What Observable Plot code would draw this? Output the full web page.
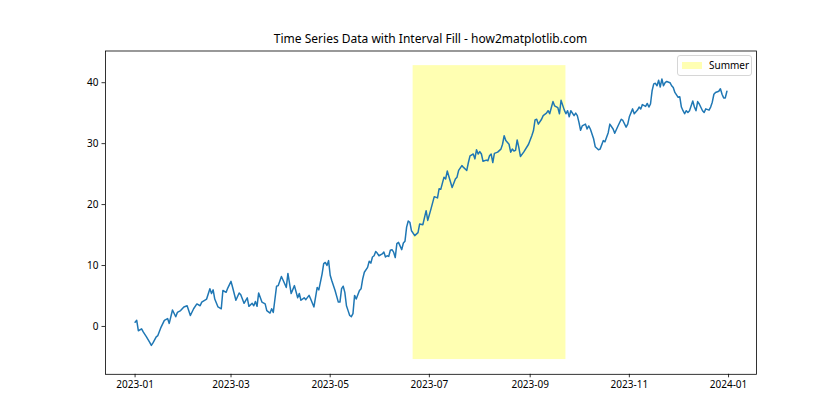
<!DOCTYPE html>
<html>
<head>
<meta charset="utf-8">
<script src="https://cdn.jsdelivr.net/npm/d3@7"></script>
<script src="https://cdn.jsdelivr.net/npm/@observablehq/plot@0.6"></script>
<style>
  html, body { margin: 0; padding: 0; background: #fff; overflow: hidden; }
  #wrap { position: relative; width: 840px; height: 420px; font-family: "Noto Sans", "Open Sans", sans-serif; }
  #title { position: absolute; left: 105px; width: 651px; top: 31px; text-align: center; font-size: 12px; line-height: 16px; color: #000; }
  #legend { position: absolute; left: 677px; top: 55px; width: 73px; height: 19px; border: 1px solid #d6d6d6; border-radius: 3px; background: rgba(255,255,255,0.8); font-size: 10px; }
  #legend .sw { position: absolute; left: 4px; top: 6px; width: 20px; height: 7px; background: #ffffb3; }
  #legend .lb { position: absolute; left: 31px; top: 2px; line-height: 14px; }
</style>
</head>
<body>
<div id="wrap">
  <div id="chart"></div>
  <div id="title">Time Series Data with Interval Fill - how2matplotlib.com</div>
  <div id="legend"><div class="sw"></div><div class="lb">Summer</div></div>
</div>
<script>
// Day offsets from 2023-01-01 and the values
const dayOffsets = [0,1,2,4,5,7,9,10,11,13,14,16,18,20,21,23,25,26,28,30,32,34,36,38,40,41,44,46,47,48,49,51,53,54,56,57,59,60,62,64,65,67,69,70,72,73,74,75,76,78,80,81,83,84,85,87,88,90,92,93,94,96,98,100,101,102,104,105,107,108,110,112,113,115,116,117,118,119,120,121,123,125,126,127,128,129,130,131,132,133,134,135,136,138,139,140,141,143,144,145,146,147,148,149,150,152,153,154,155,156,157,158,159,160,161,162,164,165,166,167,168,169,170,172,174,175,177,179,180,182,184,186,187,188,190,191,192,194,195,197,198,199,201,202,204,205,206,208,209,210,211,212,213,214,216,217,218,219,220,221,223,225,226,227,228,230,231,232,233,234,235,236,237,239,242,244,245,246,247,248,250,251,253,254,255,257,258,260,261,262,264,265,266,267,268,270,271,272,273,274,275,277,278,279,280,282,283,285,286,288,289,291,292,294,295,297,299,300,302,303,304,306,307,309,310,311,312,314,315,316,317,318,319,320,321,322,323,324,325,326,327,329,330,331,332,334,335,336,337,338,339,340,341,343,344,345,346,347,349,350,351,353,354,355,356,357,359,360,361,362,363,364];
const values = [0.7,1.0,-0.7,-0.4,-0.9,-1.7,-2.6,-3.1,-2.7,-1.7,-1.5,-0.1,1.0,1.3,0.5,2.7,1.6,2.3,2.6,3.2,3.4,1.8,2.9,3.7,3.4,4.0,4.5,6.2,5.4,6.0,4.5,3.2,2.9,5.9,5.6,6.3,7.4,6.4,4.3,5.5,5.2,3.8,4.7,3.3,3.8,3.4,4.1,3.3,5.5,4.0,3.7,2.6,2.2,2.9,2.3,6.6,6.7,8.2,7.0,6.4,8.7,5.4,6.7,4.7,5.4,4.3,4.7,4.4,5.1,4.5,3.2,6.4,6.0,8.6,10.3,10.5,10.0,10.8,8.4,7.5,5.9,4.0,4.0,6.2,6.6,5.6,3.4,2.6,1.8,1.6,2.1,5.1,4.5,5.9,6.2,7.8,8.9,9.7,10.7,10.4,11.4,11.6,12.3,12.0,11.6,11.9,12.2,11.4,11.6,11.5,12.5,12.6,12.2,11.3,13.6,13.8,12.6,13.7,14.0,16.3,17.3,17.1,15.7,14.9,15.4,16.8,16.7,19.0,17.4,19.3,21.3,21.1,22.6,22.5,24.5,24.2,25.5,23.7,22.8,24.2,24.5,25.6,26.4,26.1,25.6,26.9,28.0,28.3,27.5,29.0,28.3,28.7,28.3,27.1,27.3,27.2,28.0,28.3,26.9,28.4,28.6,29.1,29.9,31.3,30.5,29.9,28.6,29.1,28.8,28.9,30.6,29.4,27.9,28.6,29.9,31.3,32.1,33.9,34.0,33.2,34.0,34.6,35.0,35.4,34.9,36.9,36.2,35.9,34.9,37.1,35.5,34.9,35.4,34.4,35.4,34.6,35.0,34.6,33.5,32.2,32.9,33.2,32.4,32.9,32.4,30.8,29.5,29.0,29.1,30.5,30.3,31.8,33.2,32.4,31.7,32.9,34.0,33.8,32.7,33.2,34.4,35.7,34.9,35.5,36.0,35.7,36.4,36.1,36.6,36.0,36.5,38.7,39.8,39.9,39.5,40.4,39.3,40.6,39.5,40.0,40.2,40.0,39.5,39.2,38.4,37.6,37.7,36.0,35.4,34.9,35.4,35.1,35.4,37.0,36.0,35.4,36.9,36.5,35.4,35.1,35.7,35.5,36.0,36.8,38.1,38.4,38.6,39.0,38.1,37.5,37.5,38.6];

// Summer interval and its vertical extent
const summerStart = "2023-06-21";
const summerEnd = "2023-09-23";
const fillLow = -5.43;
const fillHigh = 42.8;
const legendLabel = "Summer";

// Tick labels
const xTicks = ["2023-01-01","2023-03-01","2023-05-01","2023-07-01","2023-09-01","2023-11-01","2024-01-01"];
const yTicks = [0, 10, 20, 30, 40];

const series = dayOffsets.map((d, i) => ({date: new Date(Date.UTC(2023, 0, 1 + d)), value: values[i]}));
const interval = [{x1: new Date(summerStart), x2: new Date(summerEnd), y1: fillLow, y2: fillHigh}];

const t0 = Date.UTC(2023, 0, 1), day = 864e5;
const xDomain = [new Date(t0 - 18.2 * day), new Date(t0 + 382.2 * day)];

const chart = Plot.plot({
  width: 840,
  height: 420,
  marginTop: 50.5,
  marginBottom: 46.2,
  marginLeft: 105,
  marginRight: 84,
  style: {fontFamily: "'Noto Sans', 'Open Sans', sans-serif", fontSize: "10px", color: "#000", background: "#fff"},
  x: {type: "utc", domain: xDomain, label: null},
  y: {domain: [-7.85, 45.2], label: null},
  marks: [
    Plot.rect(interval, {x1: "x1", x2: "x2", y1: "y1", y2: "y2", fill: "yellow", fillOpacity: 0.3}),
    Plot.line(series, {x: "date", y: "value", stroke: "#1f77b4", strokeWidth: 1.5}),
    Plot.frame({stroke: "#000", strokeWidth: 0.8}),
    Plot.axisX(xTicks.map(d => new Date(d)), {tickFormat: d3.utcFormat("%Y-%m"), tickSize: 3.5, tickPadding: 3.5, stroke: "#000", strokeWidth: 0.8, fontSize: 10}),
    Plot.axisY(yTicks, {tickSize: 3.5, tickPadding: 3.5, stroke: "#000", strokeWidth: 0.8, fontSize: 10})
  ]
});
document.getElementById("chart").appendChild(chart);
</script>
</body>
</html>
